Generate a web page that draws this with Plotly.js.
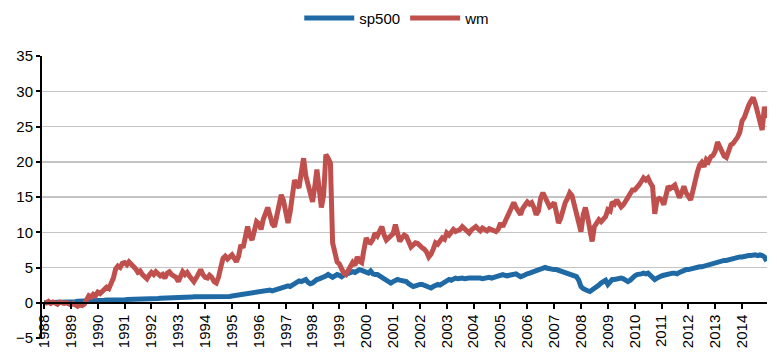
<!DOCTYPE html>
<html>
<head>
<meta charset="utf-8">
<script src="https://cdn.plot.ly/plotly-3.0.1.min.js"></script>
<style>
  html, body { margin: 0; padding: 0; background: #fff; }
  #chart { width: 777px; height: 352px; }
</style>
</head>
<body>
<div id="chart"></div>
<script>
// Monthly series, Jan 1988 .. Dec 2014 (one row per year)
const startYear = 1988;
const seriesNames = ["sp500", "wm"];

const sp500 = [
  0.0, 0.0, 0.05, 0.05, 0.1, 0.1, 0.1, 0.1, 0.1, 0.15, 0.1, 0.1,        // 1988
  0.1, 0.15, 0.15, 0.2, 0.2, 0.25, 0.3, 0.3, 0.3, 0.25, 0.3, 0.3,       // 1989
  0.3, 0.3, 0.3, 0.35, 0.4, 0.4, 0.35, 0.25, 0.25, 0.25, 0.3, 0.35,     // 1990
  0.4, 0.45, 0.45, 0.5, 0.5, 0.5, 0.5, 0.55, 0.55, 0.55, 0.5, 0.6,      // 1991
  0.6, 0.6, 0.6, 0.6, 0.65, 0.65, 0.65, 0.65, 0.7, 0.7, 0.7, 0.75,      // 1992
  0.75, 0.75, 0.8, 0.8, 0.8, 0.8, 0.8, 0.85, 0.85, 0.85, 0.85, 0.85,    // 1993
  0.85, 0.8, 0.75, 0.75, 0.75, 0.75, 0.8, 0.85, 0.85, 0.85, 0.85, 0.9,  // 1994
  0.95, 1.0, 1.05, 1.1, 1.2, 1.25, 1.3, 1.3, 1.4, 1.4, 1.5, 1.55,       // 1995
  1.6, 1.65, 1.7, 1.7, 1.8, 1.8, 1.7, 1.8, 1.95, 2.05, 2.2, 2.2,        // 1996
  2.3, 2.4, 2.3, 2.5, 2.7, 2.9, 3.1, 3.0, 3.2, 3.3, 2.9, 2.7,           // 1997
  2.8, 3.1, 3.3, 3.4, 3.5, 3.6, 3.8, 4.0, 3.7, 3.6, 3.8, 4.0,           // 1998
  3.9, 3.7, 3.9, 4.0, 4.1, 4.2, 4.4, 4.3, 4.5, 4.7, 4.6, 4.5,           // 1999
  4.3, 4.2, 4.5, 4.1, 4.0, 4.0, 3.8, 3.6, 3.5, 3.3, 3.0, 2.8,           // 2000
  3.0, 3.2, 3.3, 3.2, 3.1, 3.0, 3.0, 2.7, 2.4, 2.3, 2.4, 2.6,           // 2001
  2.6, 2.6, 2.5, 2.4, 2.2, 2.1, 2.3, 2.5, 2.6, 2.5, 2.7, 2.9,           // 2002
  3.1, 3.3, 3.2, 3.3, 3.5, 3.4, 3.5, 3.5, 3.4, 3.5, 3.5, 3.5,           // 2003
  3.5, 3.6, 3.5, 3.5, 3.4, 3.5, 3.6, 3.6, 3.5, 3.6, 3.7, 3.7,           // 2004
  3.9, 4.0, 3.9, 3.8, 3.9, 4.0, 4.0, 4.1, 3.9, 3.7, 3.8, 4.0,           // 2005
  4.1, 4.2, 4.3, 4.4, 4.5, 4.6, 4.7, 4.8, 5.0, 4.9, 4.8, 4.7,           // 2006
  4.7, 4.7, 4.6, 4.5, 4.4, 4.3, 4.2, 4.1, 4.0, 3.9, 3.7, 3.2,           // 2007
  2.3, 2.0, 1.8, 1.7, 1.6, 1.8, 2.0, 2.3, 2.5, 2.8, 3.0, 3.2,           // 2008
  2.6, 3.0, 3.3, 3.3, 3.4, 3.5, 3.5, 3.4, 3.2, 3.0, 3.2, 3.6,           // 2009
  3.8, 4.0, 4.0, 4.1, 4.2, 4.1, 4.2, 3.9, 3.6, 3.3, 3.5, 3.7,           // 2010
  3.8, 3.9, 4.0, 4.1, 4.1, 4.2, 4.2, 4.1, 4.3, 4.5, 4.6, 4.7,           // 2011
  4.7, 4.8, 4.9, 5.0, 5.0, 5.1, 5.1, 5.2, 5.3, 5.4, 5.5, 5.6,           // 2012
  5.7, 5.7, 5.8, 5.9, 6.0, 6.0, 6.1, 6.2, 6.3, 6.4, 6.4, 6.5,           // 2013
  6.5, 6.6, 6.6, 6.7, 6.7, 6.8, 6.8, 6.7, 6.8, 6.7, 6.5, 5.9            // 2014
];

const wm = [
  0.1, 0.0, 0.2, -0.1, 0.1, 0.0, -0.2, 0.1, 0.0, -0.1, 0.0, -0.2,       // 1988
  -0.3, -0.1, -0.4, -0.5, -0.3, -0.4, -0.2, 0.3, 1.0, 0.8, 1.2, 1.0,    // 1989
  1.5, 1.3, 1.6, 1.8, 2.2, 2.0, 2.6, 3.5, 4.8, 5.2, 5.0, 5.6,           // 1990
  5.7, 5.4, 5.8, 5.5, 5.2, 4.8, 4.3, 4.5, 4.0, 3.6, 3.4, 3.9,           // 1991
  4.3, 4.0, 4.4, 4.1, 3.8, 4.0, 3.5, 4.2, 4.4, 4.0, 3.7, 3.6,           // 1992
  3.0, 3.6, 4.4, 4.0, 4.3, 3.8, 3.4, 3.0, 3.5, 4.2, 4.7, 4.0,           // 1993
  3.6, 3.5, 3.9, 3.6, 3.0, 2.8, 3.6, 5.0, 6.3, 6.6, 6.2, 6.5,           // 1994
  6.8, 6.3, 5.8, 6.6, 8.2, 7.8, 9.4, 10.8, 9.5, 8.9, 10.2, 11.5,        // 1995
  11.2, 10.4, 11.8, 12.6, 13.5, 12.4, 11.2, 10.8, 12.5, 14.2, 15.3, 14.5, // 1996
  13.2, 11.3, 12.8, 15.2, 17.4, 16.8, 16.3, 18.5, 20.5, 18.0, 16.5, 15.2, // 1997
  14.3, 16.5, 18.9, 16.2, 13.5, 15.3, 21.0, 20.5, 19.8, 8.5, 6.8, 5.8,  // 1998
  5.5, 4.8, 4.2, 4.0, 4.5, 5.0, 5.7, 5.3, 6.5, 5.9, 5.7, 7.5,           // 1999
  9.2, 8.6, 8.5, 9.0, 9.9, 9.5, 10.4, 10.8, 9.6, 8.9, 9.2, 9.6,         // 2000
  9.8, 11.1, 10.2, 8.7, 9.2, 9.6, 9.4, 8.6, 7.9, 8.2, 8.5, 8.4,         // 2001
  8.0, 7.8, 7.6, 7.2, 6.5, 6.9, 7.6, 8.5, 8.3, 8.8, 9.2, 9.0,           // 2002
  9.9, 9.6, 10.0, 10.4, 10.1, 10.2, 10.4, 10.8, 10.5, 10.0, 9.9, 10.3,  // 2003
  10.6, 10.8, 10.5, 10.2, 10.6, 10.4, 10.2, 10.5, 10.4, 10.2, 10.1, 10.4, // 2004
  11.3, 10.8, 11.5, 12.2, 13.0, 13.8, 14.2, 13.5, 12.8, 12.5, 13.4, 14.0, // 2005
  14.3, 14.0, 14.2, 13.5, 12.5, 13.0, 14.8, 15.6, 14.8, 14.0, 13.6, 13.8, // 2006
  14.2, 12.8, 11.3, 12.0, 13.2, 14.2, 14.8, 15.6, 15.2, 13.9, 12.5, 11.5, // 2007
  10.1, 12.5, 13.5, 12.1, 10.5, 8.7, 10.8, 11.3, 11.8, 11.5, 11.8, 12.2, // 2008
  13.2, 13.0, 14.3, 14.0, 14.6, 14.2, 13.6, 13.9, 14.5, 15.0, 15.5, 16.0, // 2009
  16.0, 16.3, 16.7, 17.2, 17.7, 17.4, 17.7, 17.0, 16.5, 12.6, 14.6, 14.8, // 2010
  14.6, 13.9, 15.0, 16.5, 16.2, 16.4, 16.7, 15.8, 14.9, 15.6, 16.5, 15.6, // 2011
  15.2, 14.6, 15.8, 17.4, 18.5, 19.5, 19.9, 19.3, 20.3, 20.0, 20.7, 20.9, // 2012
  21.5, 22.8, 22.2, 21.4, 20.8, 20.6, 21.5, 22.4, 22.6, 23.0, 23.5, 24.2, // 2013
  25.8, 26.3, 27.4, 28.0, 28.6, 29.1, 28.2, 27.0, 25.6, 24.5, 27.8, 26.2  // 2014
];

const yTicks = [-5, 0, 5, 10, 15, 20, 25, 30, 35];

const dates = sp500.map((_, i) => {
  const y = startYear + Math.floor(i / 12);
  const m = (i % 12) + 1;
  return y + "-" + (m < 10 ? "0" + m : m) + "-01";
});

const font = "Liberation Sans, Arial, sans-serif";

const traces = [
  { x: dates, y: sp500, name: seriesNames[0], type: "scatter", mode: "lines",
    line: { color: "#1f6aa5", width: 5 } },
  { x: dates, y: wm, name: seriesNames[1], type: "scatter", mode: "lines",
    line: { color: "#c0504d", width: 5 } }
];

const layout = {
  width: 777, height: 352,
  margin: { l: 42, r: 10, t: 56, b: 14, autoexpand: false },
  paper_bgcolor: "#fff", plot_bgcolor: "#fff",
  font: { family: font, size: 15, color: "#000" },
  showlegend: true,
  legend: {
    orientation: "h", x: 0.49, xanchor: "center",
    yref: "container", y: 0.995, yanchor: "top",
    itemwidth: 50, tracegroupgap: 0,
    font: { family: font, size: 15, color: "#000" }, bgcolor: "rgba(0,0,0,0)"
  },
  xaxis: {
    type: "date",
    range: ["1987-12-04", "2014-12-06"],
    anchor: "free", position: 0.125,
    tick0: "1988-01-01", dtick: "M12", tickformat: "%Y",
    tickangle: -90,
    showgrid: false, zeroline: false,
    showline: true, linecolor: "#000", linewidth: 2,
    ticks: "outside", ticklen: 5, tickwidth: 2, tickcolor: "#000",
    tickfont: { family: font, size: 15, color: "#000" }
  },
  yaxis: {
    range: [-5, 35], tickvals: yTicks,
    showgrid: true, gridcolor: "#c4c4c4", gridwidth: 1.5,
    zeroline: false,
    showline: true, linecolor: "#000", linewidth: 2,
    ticks: "outside", ticklen: 4, tickwidth: 2, tickcolor: "#000",
    tickfont: { family: font, size: 15, color: "#000" }
  }
};

Plotly.newPlot("chart", traces, layout, { staticPlot: true, displayModeBar: false });
</script>
</body>
</html>
